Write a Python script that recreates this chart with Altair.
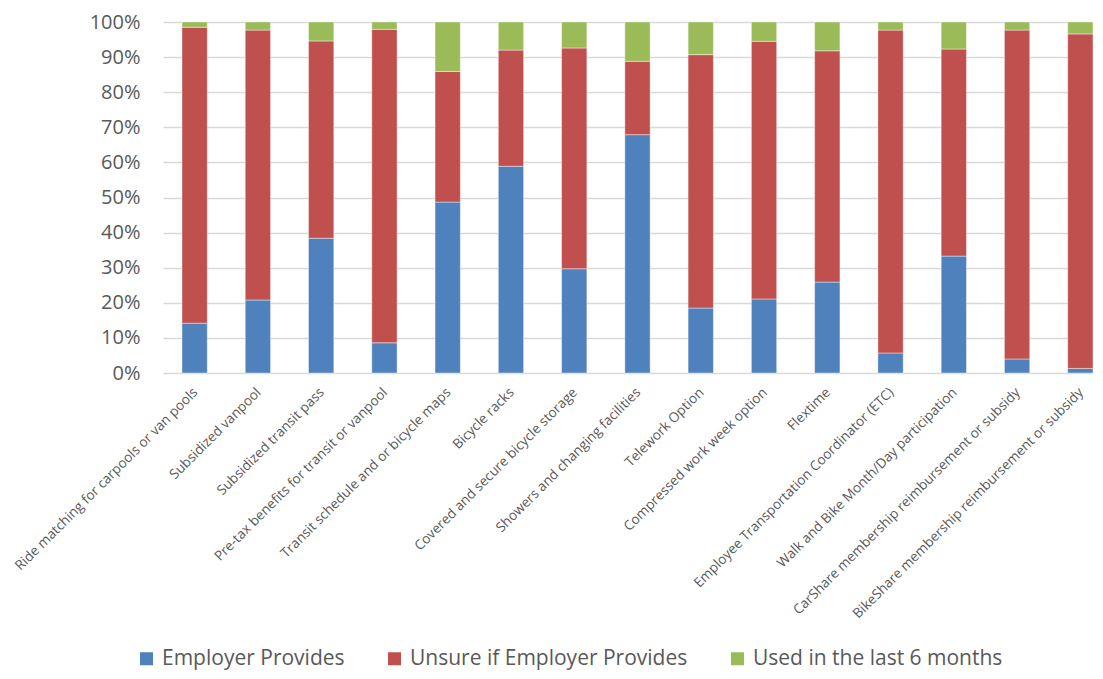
import altair as alt
import pandas as pd

categories = [
    "Ride matching for carpools or van pools",
    "Subsidized vanpool",
    "Subsidized transit pass",
    "Pre-tax benefits for transit or vanpool",
    "Transit schedule and or bicycle maps",
    "Bicycle racks",
    "Covered and secure bicycle storage",
    "Showers and changing facilities",
    "Telework Option",
    "Compressed work week option",
    "Flextime",
    "Employee Transportation Coordinator (ETC)",
    "Walk and Bike Month/Day participation",
    "CarShare membership reimbursement or subsidy",
    "BikeShare membership reimbursement or subsidy",
]
series = ["Employer Provides", "Unsure if Employer Provides", "Used in the last 6 months"]
colors = ["#4F81BD", "#C0504D", "#9BBB59"]

employer = [14.2, 20.8, 38.4, 8.6, 48.7, 58.9, 29.7, 67.9, 18.5, 21.1, 25.9, 5.7, 33.3, 4.0, 1.3]
unsure = [84.3, 76.9, 56.2, 89.3, 37.2, 33.1, 62.9, 20.9, 72.2, 73.4, 65.9, 92.0, 59.0, 93.7, 95.3]
used = [1.5, 2.3, 5.4, 2.1, 14.1, 8.0, 7.4, 11.2, 9.3, 5.5, 8.2, 2.3, 7.7, 2.3, 3.4]

rows = []
for i, c in enumerate(categories):
    for k, (s, vals) in enumerate(zip(series, [employer, unsure, used])):
        rows.append({"cat": c, "series": s, "idx": k, "value": vals[i] / 100.0})
df = pd.DataFrame(rows)

FONT = "Open Sans"
GREY = "#595959"

chart = alt.Chart(df).mark_bar(stroke="white", strokeWidth=0.6, strokeOpacity=0.7).encode(
    x=alt.X(
        "cat:N",
        sort=categories,
        title=None,
        scale=alt.Scale(paddingInner=0.6, paddingOuter=0.15, align=1),
        axis=alt.Axis(
            labelAngle=315,
            labelFontSize=13.6,
            labelFont=FONT,
            labelColor=GREY,
            labelPadding=12,
            labelOffset=-4,
            labelLimit=400,
            ticks=False,
            domain=False,
            grid=False,
        ),
    ),
    y=alt.Y(
        "value:Q",
        stack="zero",
        title=None,
        scale=alt.Scale(domain=[0, 1], nice=False),
        axis=alt.Axis(
            values=[i / 10 for i in range(11)],
            format=".0%",
            labelFontSize=20,
            labelFont=FONT,
            labelColor=GREY,
            labelPadding=23,
            ticks=False,
            domain=False,
            grid=True,
            gridColor="#D9D9D9",
            gridWidth=1.4,
        ),
    ),
    color=alt.Color(
        "series:N",
        scale=alt.Scale(domain=series, range=colors),
        legend=alt.Legend(
            title=None,
            orient="none",
            direction="horizontal",
            columns=3,
            legendX=-27,
            legendY=626,
            symbolType="square",
            symbolSize=169,
            symbolStrokeWidth=0,
            labelFontSize=21,
            labelFont=FONT,
            labelColor=GREY,
            labelOffset=5,
            columnPadding=39,
            labelLimit=400,
        ),
    ),
    order=alt.Order("idx:Q", sort="ascending"),
).properties(
    width=930,
    height=351,
    autosize=alt.AutoSizeParams(type="none"),
    padding={"left": 155, "top": 14, "right": 0, "bottom": 298},
).configure_view(stroke=None)

chart.save("out.html", embed_options={"renderer": "svg", "actions": False})
